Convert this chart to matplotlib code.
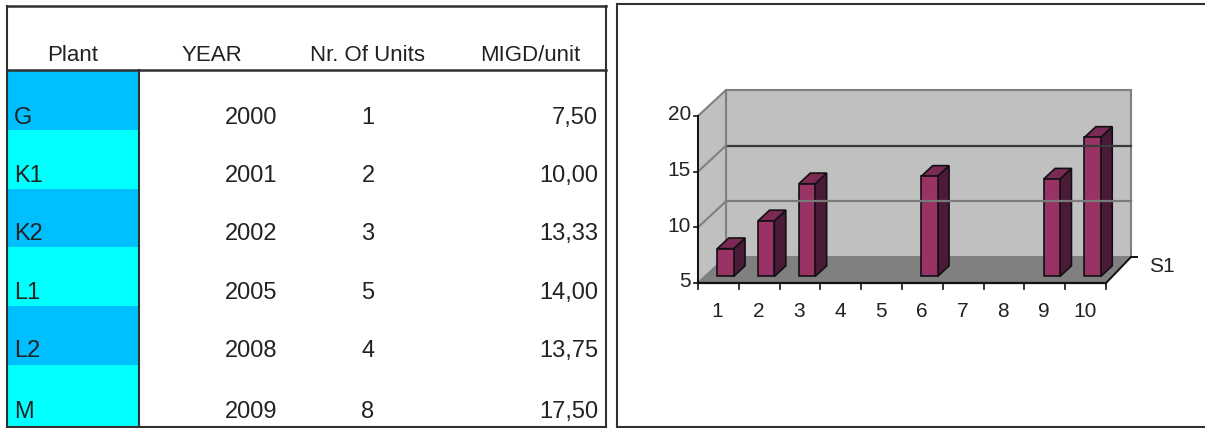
import matplotlib
matplotlib.use('Agg')
import matplotlib.pyplot as plt
from matplotlib.patches import Polygon, Rectangle

plt.rcParams['font.family'] = ['Liberation Sans', 'DejaVu Sans']

# table
headers = ['Plant', 'YEAR', 'Nr. Of Units', 'MIGD/unit']
plants = ['G', 'K1', 'K2', 'L1', 'L2', 'M']
years = ['2000', '2001', '2002', '2005', '2008', '2009']
units = ['1', '2', '3', '5', '4', '8']
migd = ['7,50', '10,00', '13,33', '14,00', '13,75', '17,50']

# chart
categories = [1, 2, 3, 4, 5, 6, 7, 8, 9, 10]
bar_cats = [1, 2, 3, 6, 9, 10]
bar_vals = [7.5, 10.0, 13.33, 14.0, 13.75, 17.5]
y_ticks = [5, 10, 15, 20]

W, H = 1205, 428
fig = plt.figure(figsize=(W / 100, H / 100), dpi=100, facecolor='white')

# whole figure in pixels, for the table and the frames
bg = fig.add_axes([0, 0, 1, 1])
bg.set_xlim(0, W)
bg.set_ylim(H, 0)
bg.axis('off')

band_tops = [71, 130, 189, 247, 306, 365]
band_bottoms = [130, 189, 247, 306, 365, 427]
baselines = [124, 182, 240, 299, 357, 418]
for i in range(6):
    col = '#00BFFF' if i % 2 == 0 else '#00FFFF'
    bg.add_patch(Rectangle((7, band_tops[i]), 132, band_bottoms[i] - band_tops[i], color=col, lw=0))

line_col = '#303030'
bg.plot([7, 606], [6, 6], color=line_col, lw=1.8)
bg.plot([7, 606], [70, 70], color=line_col, lw=1.8)
bg.plot([7, 606], [427, 427], color=line_col, lw=1.5)
bg.plot([7, 7], [6, 427], color=line_col, lw=1.5)
bg.plot([139, 139], [70, 427], color=line_col, lw=1.5)
bg.plot([606, 606], [6, 427], color=line_col, lw=1.5)
bg.plot([617, 1205], [4, 4], color=line_col, lw=1.5)
bg.plot([617, 617], [4, 427], color=line_col, lw=1.5)
bg.plot([617, 1205], [427, 427], color=line_col, lw=1.5)

txt = '#222222'
for h, x in zip(headers, [73, 212, 368, 530]):
    bg.text(x, 61, h, ha='center', va='baseline', fontsize=16, color=txt)
for i in range(6):
    bg.text(14, baselines[i], plants[i], ha='left', va='baseline', fontsize=17, color=txt)
    bg.text(277, baselines[i], years[i], ha='right', va='baseline', fontsize=17, color=txt)
    bg.text(368, baselines[i], units[i], ha='center', va='baseline', fontsize=17, color=txt)
    bg.text(598, baselines[i], migd[i], ha='right', va='baseline', fontsize=17, color=txt)

# front plane of the 3d chart
left, right, y5, y20 = 698, 1106, 283, 116
ax = fig.add_axes([left / W, 1 - y5 / H, (right - left) / W, (y5 - y20) / H])
ax.set_xlim(0.5, 10.5)
ax.set_ylim(5, 20)
ax.axis('off')

dx = 28 / 40.8   # depth offset in category units
dx_r = 25 / 40.8  # right side of the wall is a bit shorter
dy = 26 / 11.13  # depth offset in value units


def poly(pts, **kw):
    p = Polygon(pts, closed=True, clip_on=False, **kw)
    ax.add_patch(p)


x0, x1 = 0.5, 10.5
poly([(x0 + dx, 5 + dy), (x1 + dx_r, 5 + dy), (x1 + dx_r, 20 + dy), (x0 + dx, 20 + dy)],
     facecolor='#C0C0C0', edgecolor='#808080', lw=1.5)
poly([(x0, 5), (x0 + dx, 5 + dy), (x0 + dx, 20 + dy), (x0, 20)],
     facecolor='#C0C0C0', edgecolor='#808080', lw=1.5)
poly([(x0, 5), (x1, 5), (x1 + dx_r, 5 + dy), (x0 + dx, 5 + dy)],
     facecolor='#808080', edgecolor='#808080', lw=1)

for v, c, lw in [(15, '#3A3A3A', 1.6), (10, '#7A7A7A', 1.6)]:
    ax.plot([x0 + dx, x1 + dx_r], [v + dy, v + dy], color=c, lw=lw, clip_on=False)
    ax.plot([x0, x0 + dx], [v, v + dy], color='#808080', lw=1.5, clip_on=False)

# bars, placed part way into the depth
d0, d1 = 0.25, 0.66
w = 0.2
for c, v in zip(bar_cats, bar_vals):
    xl = c - w + d0 * dx
    xr = c + w + d0 * dx
    yb = 5 + d0 * dy
    yt = v + d0 * dy
    ox = (d1 - d0) * dx
    oy = (d1 - d0) * dy
    poly([(xr, yb), (xr + ox, yb + oy), (xr + ox, yt + oy), (xr, yt)],
         facecolor='#4A1A38', edgecolor='#111111', lw=1.2)
    poly([(xl, yt), (xr, yt), (xr + ox, yt + oy), (xl + ox, yt + oy)],
         facecolor='#7A2A55', edgecolor='#111111', lw=1.2)
    poly([(xl, yb), (xr, yb), (xr, yt), (xl, yt)],
         facecolor='#993366', edgecolor='#111111', lw=1.2)

# axes lines and ticks
ax.plot([x0, x1], [5, 5], color='#111111', lw=1.6, clip_on=False)
ax.plot([x0, x0], [5, 20], color='#111111', lw=1.4, clip_on=False)
ax.plot([x1, x1 + dx_r], [5, 5 + dy], color='#111111', lw=1.4, clip_on=False)
ax.plot([x1 + dx_r, x1 + dx_r + 0.15], [5 + dy, 5 + dy], color='#111111', lw=1.4, clip_on=False)

for k in range(11):
    ax.plot([x0 + k, x0 + k], [5, 4.45], color='#111111', lw=1.2, clip_on=False)
for v in y_ticks:
    ax.plot([x0, x0 - 0.1], [v, v], color='#111111', lw=1.2, clip_on=False)
    ax.text(x0 - 0.17, v + 0.1, str(v), ha='right', va='center', fontsize=15, color=txt, clip_on=False)
for c in categories:
    ax.text(c - 0.02, 2.4, str(c), ha='center', va='center', fontsize=15, color=txt, clip_on=False)
ax.text(x1 + 1.37, 6.5, 'S1', ha='center', va='center', fontsize=15, color=txt, clip_on=False)

fig.savefig('out.png', dpi=100)
